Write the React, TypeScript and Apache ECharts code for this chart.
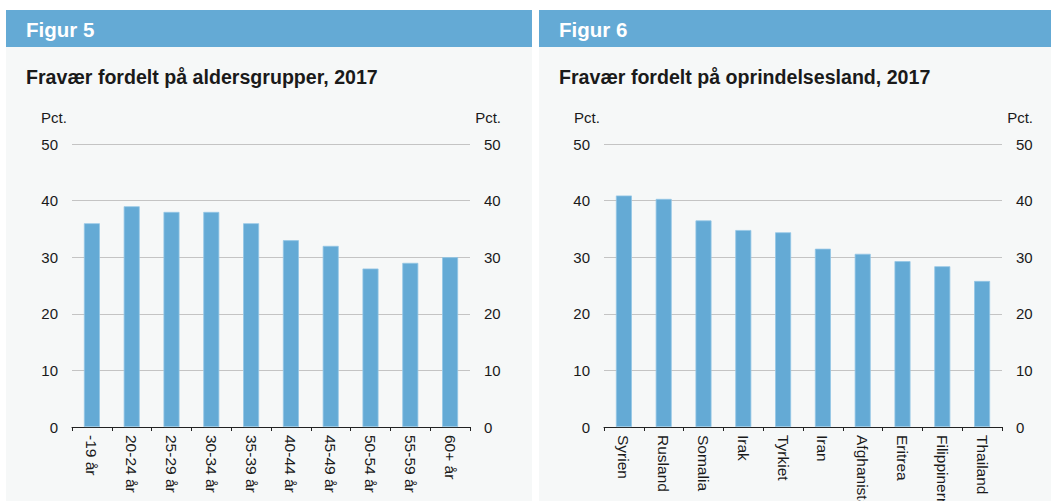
import React, { useEffect, useRef } from "react";
import * as echarts from "echarts";

const ageCategories = ["-19 år", "20-24 år", "25-29 år", "30-34 år", "35-39 år", "40-44 år", "45-49 år", "50-54 år", "55-59 år", "60+ år"];
const ageValues = [36, 39, 38, 38, 36, 33, 32, 28, 29, 30];

const countryCategories = ["Syrien", "Rusland", "Somalia", "Irak", "Tyrkiet", "Iran", "Afghanistan", "Eritrea", "Filippinerne", "Thailand"];
const countryValues = [40.9, 40.3, 36.5, 34.8, 34.4, 31.5, 30.6, 29.3, 28.4, 25.8];

const yTicks = { min: 0, max: 50, interval: 10 };

const FONT = "'Liberation Sans', Arial, Helvetica, sans-serif";
const TEXT = "#1a1a1a";
const BLUE = "#64aad5";
const BG = "#f6f8f8";

export default function App() {
  const ref = useRef<HTMLDivElement>(null);
  useEffect(() => {
    if (!ref.current) return;
    const chart = echarts.init(ref.current, null, { renderer: "svg" });
    const yAxisBase = (gridIndex: number, position: "left" | "right", showGrid: boolean) => ({
      type: "value",
      gridIndex,
      position,
      min: yTicks.min,
      max: yTicks.max,
      interval: yTicks.interval,
      axisLine: { show: false },
      axisTick: { show: false },
      axisLabel: { color: TEXT, fontSize: 15, fontFamily: FONT, margin: 14 },
      splitLine: { show: showGrid, lineStyle: { color: "#c4c4c4", width: 1 } },
    });
    const xAxisBase = (gridIndex: number, data: string[]) => ({
      type: "category",
      gridIndex,
      data,
      axisLine: { lineStyle: { color: "#222", width: 1 } },
      axisTick: { show: true, length: 4, alignWithLabel: false, lineStyle: { color: "#222" } },
      axisLabel: { rotate: -90, color: TEXT, fontSize: 15.5, fontFamily: FONT, margin: 8, interval: 0 },
    });
    const barStyle = { color: BLUE, borderColor: "#94c6e6", borderWidth: 0.8 };
    const panel = (x: number, w: number, fig: string, title: string, pctLeftX: number, pctRightX: number) => [
      { type: "rect", z: -10, shape: { x, y: 47, width: w, height: 460 }, style: { fill: BG } },
      { type: "rect", z: -9, shape: { x, y: 10, width: w, height: 37 }, style: { fill: BLUE } },
      {
        type: "text", z: 10, x: x + 20, y: 29.5,
        style: { text: fig, fill: "#ffffff", font: `bold 20.5px ${FONT}`, verticalAlign: "middle" },
      },
      {
        type: "text", z: 10, x: x + 20, y: 77,
        style: { text: title, fill: TEXT, font: `bold 19.6px ${FONT}`, verticalAlign: "middle" },
      },
      {
        type: "text", z: 10, x: pctLeftX, y: 117,
        style: { text: "Pct.", fill: TEXT, font: `15px ${FONT}`, verticalAlign: "middle", align: "left" },
      },
      {
        type: "text", z: 10, x: pctRightX, y: 117,
        style: { text: "Pct.", fill: TEXT, font: `15px ${FONT}`, verticalAlign: "middle", align: "right" },
      },
    ];
    chart.setOption({
      animation: false,
      backgroundColor: "#ffffff",
      textStyle: { fontFamily: FONT },
      grid: [
        { left: 72, right: 1051 - 470, top: 144, bottom: 501 - 427, containLabel: false, outerBoundsMode: "none" },
        { left: 604, right: 1051 - 1002, top: 144, bottom: 501 - 427, containLabel: false, outerBoundsMode: "none" },
      ],
      xAxis: [xAxisBase(0, ageCategories), xAxisBase(1, countryCategories)],
      yAxis: [
        yAxisBase(0, "left", true),
        yAxisBase(0, "right", false),
        yAxisBase(1, "left", true),
        yAxisBase(1, "right", false),
      ],
      series: [
        { type: "bar", xAxisIndex: 0, yAxisIndex: 0, data: ageValues, barWidth: 16, itemStyle: barStyle },
        { type: "bar", xAxisIndex: 1, yAxisIndex: 2, data: countryValues, barWidth: 16, itemStyle: barStyle },
      ],
      graphic: [
        ...panel(6, 526, "Figur 5", "Fravær fordelt på aldersgrupper, 2017", 41, 501),
        ...panel(539, 512, "Figur 6", "Fravær fordelt på oprindelsesland, 2017", 574, 1033),
      ],
    });
    return () => chart.dispose();
  }, []);
  return (
    <div
      ref={ref}
      style={{ position: "fixed", left: 0, top: 0, width: 1051, height: 501 }}
    />
  );
}
